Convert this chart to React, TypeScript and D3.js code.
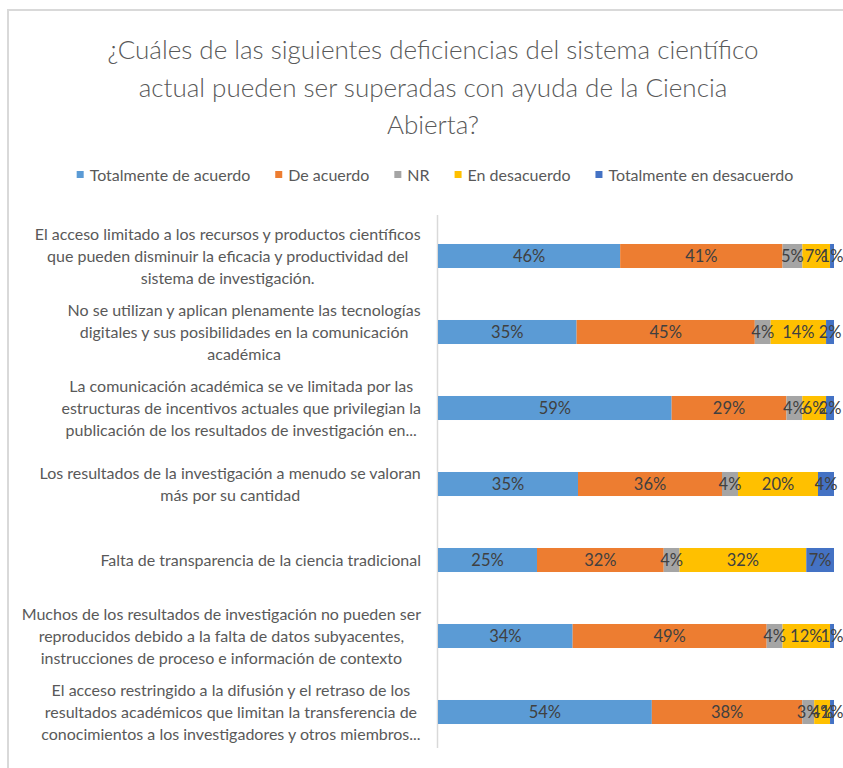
import React from "react";
import * as d3 from "d3";

const titleLines = [
  "¿Cuáles de las siguientes deficiencias del sistema científico",
  "actual pueden ser superadas con ayuda de la Ciencia",
  "Abierta?",
];

const seriesNames = [
  "Totalmente de acuerdo",
  "De acuerdo",
  "NR",
  "En desacuerdo",
  "Totalmente en desacuerdo",
];

const seriesColors = ["#5B9BD5", "#ED7D31", "#A5A5A5", "#FFC000", "#4472C4"];

const categoryLines = [
  [
    "El acceso limitado a los recursos y productos científicos",
    "que pueden disminuir la eficacia y productividad del",
    "sistema de investigación.",
  ],
  [
    "No se utilizan y aplican plenamente las tecnologías",
    "digitales y sus posibilidades en la comunicación",
    "académica",
  ],
  [
    "La comunicación académica se ve limitada por las",
    "estructuras de incentivos actuales que privilegian la",
    "publicación de los resultados de investigación en...",
  ],
  ["Los resultados de la investigación a menudo se valoran", "más por su cantidad"],
  ["Falta de transparencia de la ciencia tradicional"],
  [
    "Muchos de los resultados de investigación no pueden ser",
    "reproducidos debido a la falta de datos subyacentes,",
    "instrucciones de proceso e información de contexto",
  ],
  [
    "El acceso restringido a la difusión y el retraso de los",
    "resultados académicos que limitan la transferencia de",
    "conocimientos a los investigadores y otros miembros...",
  ],
];

const totalmenteDeAcuerdo = [46, 35, 59, 35, 25, 34, 54];
const deAcuerdo = [41, 45, 29, 36, 32, 49, 38];
const nr = [5, 4, 4, 4, 4, 4, 3];
const enDesacuerdo = [7, 14, 6, 20, 32, 12, 4];
const totalmenteEnDesacuerdo = [1, 2, 2, 4, 7, 1, 1];

const seriesValues = [totalmenteDeAcuerdo, deAcuerdo, nr, enDesacuerdo, totalmenteEnDesacuerdo];

const FONT = "Lato, 'Open Sans', sans-serif";

let ctx: CanvasRenderingContext2D | null = null;
function measure(text: string, size: number, weight = 400): number {
  if (!ctx) {
    const c = document.createElement("canvas");
    ctx = c.getContext("2d");
  }
  if (!ctx) return text.length * size * 0.45;
  ctx.font = `${weight} ${size}px Lato`;
  return ctx.measureText(text).width;
}

export default function App() {
  const W = 843;
  const H = 768;

  const rows = categoryLines.map((_, i) => {
    const r: any = { idx: i };
    seriesNames.forEach((s, k) => (r[s] = seriesValues[k][i]));
    return r;
  });

  const stack = d3.stack<any>().keys(seriesNames).offset(d3.stackOffsetExpand);
  const stacked = stack(rows);

  const x = d3.scaleLinear().domain([0, 1]).range([438, 834]);
  const y = d3
    .scaleBand<number>()
    .domain(categoryLines.map((_, i) => i))
    .range([218, 750])
    .paddingInner(0.684)
    .paddingOuter(0.342);

  const labelSize = 16;
  const lineH = 22;
  const labelRight = 421;

  // legend layout
  const legendSize = 16;
  const sq = 7;
  const gapSqText = 6;
  const gapItems = 25;
  const widths = seriesNames.map((s) => measure(s, legendSize));
  const total =
    widths.reduce((a, b) => a + b, 0) + seriesNames.length * (sq + gapSqText) + (seriesNames.length - 1) * gapItems;
  let lx = 435 - total / 2;
  const legendItems = seriesNames.map((s, k) => {
    const item = { name: s, x: lx, color: seriesColors[k] };
    lx += sq + gapSqText + widths[k] + gapItems;
    return item;
  });

  return (
    <svg
      width={W}
      height={H}
      style={{ position: "absolute", left: 0, top: 0, background: "#fff" }}
      fontFamily={FONT}
    >
      <rect x={0} y={0} width={W} height={H} fill="#fff" />
      <line x1={7} x2={W} y1={10} y2={10} stroke="#D9D9D9" strokeWidth={2} />
      <line x1={8} x2={8} y1={10} y2={H} stroke="#D9D9D9" strokeWidth={2} />

      {titleLines.map((t, i) => (
        <text
          key={i}
          x={433}
          y={59 + i * 37.5}
          textAnchor="middle"
          fontSize={26}
          fontWeight={300}
          fill="#595959"
        >
          {t}
        </text>
      ))}

      {legendItems.map((it) => (
        <g key={it.name}>
          <rect x={it.x} y={171} width={sq} height={sq} fill={it.color} />
          <text x={it.x + sq + gapSqText} y={180.5} fontSize={legendSize} fill="#595959">
            {it.name}
          </text>
        </g>
      ))}

      <line x1={437.5} x2={437.5} y1={215} y2={748} stroke="#D9D9D9" strokeWidth={1.5} />

      {categoryLines.map((lines, i) => {
        const maxW = d3.max(lines, (l) => measure(l, labelSize)) || 0;
        const cx = labelRight - maxW / 2;
        const cy = (y(i) || 0) + y.bandwidth() / 2;
        const top = cy - ((lines.length - 1) * lineH) / 2;
        return (
          <g key={i}>
            {lines.map((l, j) => (
              <text
                key={j}
                x={cx}
                y={top + j * lineH}
                dy="0.36em"
                textAnchor="middle"
                fontSize={labelSize}
                fill="#595959"
              >
                {l}
              </text>
            ))}
          </g>
        );
      })}

      {stacked.map((layer, k) => (
        <g key={layer.key} fill={seriesColors[k]}>
          {layer.map((d, i) => (
            <rect
              key={i}
              x={x(d[0])}
              y={y(i)}
              width={Math.max(0, x(d[1]) - x(d[0]))}
              height={y.bandwidth()}
            />
          ))}
        </g>
      ))}

      {stacked.map((layer, k) => (
        <g key={"l" + layer.key}>
          {layer.map((d, i) => (
            <text
              key={i}
              x={(x(d[0]) + x(d[1])) / 2}
              y={(y(i) || 0) + y.bandwidth() / 2}
              dy="0.36em"
              textAnchor="middle"
              fontSize={16.5}
              fill="#404040"
            >
              {seriesValues[k][i]}%
            </text>
          ))}
        </g>
      ))}
    </svg>
  );
}
